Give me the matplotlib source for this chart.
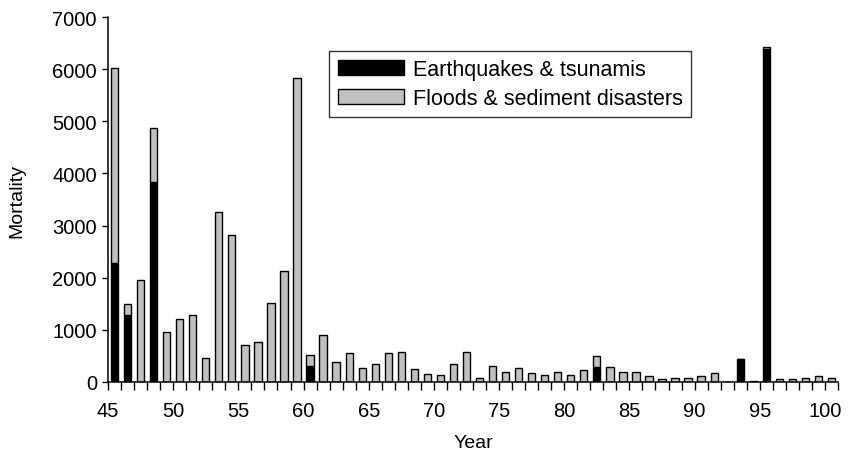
import numpy as np
import matplotlib.pyplot as plt

plt.rcParams['font.family'] = ['Liberation Sans', 'DejaVu Sans']

# Disaster mortality in Japan by year (19xx), split by cause
years = np.arange(45, 101)
quakes = [
    2280, 1290, 0, 3840, 0, 0, 0, 0, 0, 0,        # 45-54
    0, 0, 0, 0, 0, 300, 0, 0, 0, 0,               # 55-64
    0, 0, 0, 0, 0, 0, 0, 0, 0, 0,                 # 65-74
    0, 0, 0, 0, 0, 0, 0, 287, 0, 0,               # 75-84
    0, 0, 0, 0, 0, 0, 0, 0, 434, 0,               # 85-94
    6390, 0, 0, 0, 0, 0,                          # 95-100
]
floods = [
    3750, 210, 1950, 1030, 965, 1200, 1290, 455, 3255, 2820,
    715, 765, 1520, 2125, 5825, 215, 905, 375, 560, 275,
    345, 550, 575, 245, 160, 135, 345, 575, 80, 305,
    200, 262, 165, 135, 185, 135, 225, 203, 287, 191,
    191, 121, 64, 83, 83, 108, 172, 0, 0, 15,
    40, 64, 64, 83, 108, 70,
]
tick_years = np.arange(45, 101, 5)

fig = plt.figure(figsize=(8.49, 4.60), dpi=100)
ax = fig.add_axes([108 / 849, 77 / 460, 730 / 849, 365 / 460])

# each year occupies the slot [year, year + 1]
xpos = years + 0.5
ax.bar(xpos, quakes, width=0.56, color='black', edgecolor='black',
       linewidth=1.0, label='Earthquakes & tsunamis')
ax.bar(xpos, floods, width=0.56, bottom=quakes, color='#c0c0c0',
       edgecolor='black', linewidth=1.0, label='Floods & sediment disasters')

ax.set_xlim(45, 101)
ax.set_ylim(0, 7000)
ax.set_yticks(np.arange(0, 7001, 1000))
ax.set_xticks(tick_years)
ax.set_xticks(np.arange(45, 102), minor=True)
ax.tick_params(axis='x', which='both', direction='out', length=5.5,
               width=1.0, labelsize=14.5, pad=8)
ax.tick_params(axis='y', direction='out', length=4, width=1.0,
               labelsize=14.5, pad=4)

for side in ('top', 'right'):
    ax.spines[side].set_visible(False)
for side in ('left', 'bottom'):
    ax.spines[side].set_linewidth(1.1)

ax.set_xlabel('Year', fontsize=14, labelpad=10)
ax.set_ylabel('Mortality', fontsize=14, labelpad=19)

leg = ax.legend(loc='upper left', bbox_to_anchor=(221 / 730, 1 - 33.5 / 365),
                fontsize=15.5, frameon=True, fancybox=False, edgecolor='black',
                handlelength=3.1, handleheight=0.7, handletextpad=0.4,
                borderpad=0.4, labelspacing=0.35, borderaxespad=0)
leg.get_frame().set_linewidth(1.0)

fig.savefig('out.png', dpi=100)
